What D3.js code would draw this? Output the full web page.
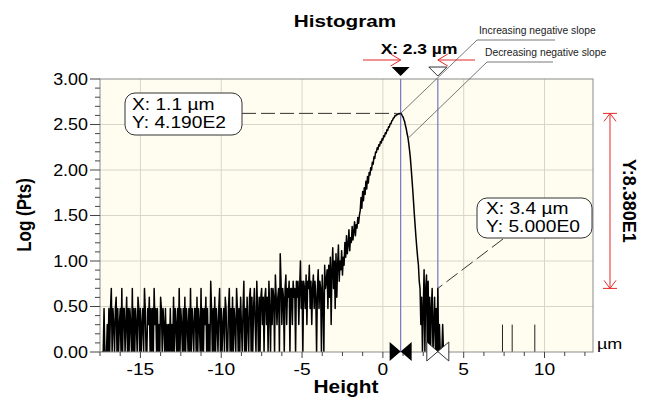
<!DOCTYPE html>
<html><head><meta charset="utf-8">
<script src="https://cdn.jsdelivr.net/npm/d3@7"></script>
<style>
body{margin:0;background:#fff}
svg{display:block}
text{font-family:"Liberation Sans",Arial,Helvetica,sans-serif}
</style>
</head><body>
<svg id="c" width="655" height="397"></svg>
<script>
// ---- data (histogram counts per 0.05 µm bin, starting at -17.40 µm) ----
const binStart = -17.4;
const binWidth = 0.05;
const counts = [
  0,0,0,3,0,0,0,2,0,3,1,3,5,0,3,2,0,3,4,1,
  3,0,2,3,1,5,0,3,3,0,2,4,1,3,0,3,2,0,5,1,
  3,0,3,2,0,4,3,1,3,0,2,3,0,5,3,1,0,3,2,4,
  0,3,1,3,0,5,2,3,0,3,1,2,0,4,3,0,3,2,1,3,
  0,2,1,2,0,3,0,2,1,4,0,3,2,0,3,1,5,0,3,2,
  0,3,1,4,0,3,2,0,3,1,5,0,3,2,0,3,3,1,4,0,
  3,2,0,5,1,3,0,3,2,4,0,3,1,2,0,6,3,0,3,1,
  4,0,3,2,0,3,5,1,3,0,2,3,0,4,3,1,0,3,5,0,
  3,1,4,0,3,2,0,5,3,1,3,0,4,2,0,3,6,1,3,0,
  4,2,0,4,5,1,4,0,3,5,2,0,6,3,1,4,0,4,5,2,
  4,0,4,5,2,4,1,6,3,0,5,2,5,4,0,7,4,2,4,5,
  1,12,6,2,5,4,0,5,7,2,5,4,6,1,5,5,2,6,4,5,
  0,6,4,6,2,5,10,3,6,1,6,5,3,7,2,6,5,9,3,6,
  2,5,7,3,6,4,0,5,8,3,6,5,1,7,4,0,9,5,6,8,
  3,9,4,11,2,8,14,5,10,3,12,4,9,15,6,10,8,13,7,11,
  9,16,11,19,12,15,22,13,18,16,24,17,21,27,19,25,23,30,26,32,
  36,50,38,58,46,64,54,75,62,85,72,94,88,106,100,122,116,140,134,158,
  156,176,168,190,184,206,198,220,214,238,232,256,250,276,272,298,296,322,322,346,
  352,372,374,396,394,410,406,417,412,418,419,412,394,382,358,338,306,282,250,228,
  196,165,136,105,80,60,44,32,24,18,14,11,9,6,5,2,4,0,3,8,
  0,5,7,0,6,1,4,0,3,5,0,2,4,0,3,1,5,0,2,0,
  0,0,2,0,0,0,0,0,0
];
const outlierX = [7.4, 8.0, 9.4];
const outlierCounts = [2, 2, 2];
const xTicks = [-15, -10, -5, 0, 5, 10];
const xTickLabels = ["-15", "-10", "-5", "0", "5", "10"];
const yTicks = [0, 0.5, 1, 1.5, 2, 2.5, 3];
const yTickLabels = ["0.00", "0.50", "1.00", "1.50", "2.00", "2.50", "3.00"];
const cursorX = [1.1, 3.4];
const cursorCounts = [419, 5];
const cursorLabels = [["X: 1.1 µm", "Y: 4.190E2"], ["X: 3.4 µm", "Y: 5.000E0"]];
const slopeX = [1.1, 1.57];
const slopeV = [2.622, 2.35];
const slopeLabels = ["Increasing negative slope", "Decreasing negative slope"];

// ---- layout ----
const SX = 1.2;
const M = {l: 100, r: 593, t: 79, b: 352};
const svg = d3.select("#c");
const x = d3.scaleLinear().domain([-17.5, 13]).range([M.l, M.r]);
const y = d3.scaleLinear().domain([0, 3]).range([M.b, M.t]);
const lv = c => Math.log10(Math.max(c, 1));

function T(g, px, py, s, o = {}) {
  return g.append("text")
    .attr("transform", `translate(${px},${py}) scale(${o.sx || SX},1)` + (o.rot ? ` rotate(${o.rot})` : ""))
    .attr("font-size", o.size || 16)
    .attr("font-weight", o.bold ? "bold" : null)
    .attr("text-anchor", o.anchor || "start")
    .attr("fill", o.fill || "#000")
    .text(s);
}

// plot background
svg.append("rect").attr("x", M.l).attr("y", M.t).attr("width", M.r - M.l).attr("height", M.b - M.t)
  .attr("fill", "#fffdf0");

// grid
const grid = svg.append("g").attr("stroke", "#dad6c6").attr("stroke-width", 1);
xTicks.forEach(v => grid.append("line").attr("x1", x(v)).attr("x2", x(v)).attr("y1", M.t).attr("y2", M.b));
yTicks.filter(v => v > 0 && v < 3).forEach(v => grid.append("line").attr("x1", M.l).attr("x2", M.r).attr("y1", y(v)).attr("y2", y(v)));

svg.append("clipPath").attr("id", "clip").append("rect")
  .attr("x", M.l).attr("y", M.t).attr("width", M.r - M.l).attr("height", M.b - M.t);
const plot = svg.append("g").attr("clip-path", "url(#clip)");

// cursor lines
cursorX.forEach(v => plot.append("line").attr("x1", x(v)).attr("x2", x(v)).attr("y1", M.t).attr("y2", M.b)
  .attr("stroke", "#7676c4").attr("stroke-width", 1.2));

// histogram line
const pts = counts.map((c, i) => [binStart + i * binWidth, lv(c)]);
plot.append("path").datum(pts)
  .attr("d", d3.line().x(d => x(d[0])).y(d => y(d[1])))
  .attr("fill", "none").attr("stroke", "#000").attr("stroke-width", 1.5).attr("stroke-linejoin", "round");
outlierX.forEach((v, i) => plot.append("line").attr("x1", x(v)).attr("x2", x(v))
  .attr("y1", y(0)).attr("y2", y(lv(outlierCounts[i]))).attr("stroke", "#222").attr("stroke-width", 1));

// frame
svg.append("rect").attr("x", M.l).attr("y", M.t).attr("width", M.r - M.l).attr("height", M.b - M.t)
  .attr("fill", "none").attr("stroke", "#8a8a8a").attr("stroke-width", 1);

// y axis ticks
const ax = svg.append("g").attr("stroke", "#444").attr("stroke-width", 1);
d3.range(0, 31).forEach(k => {
  const v = k / 10, major = k % 5 === 0;
  ax.append("line").attr("x1", M.l - (major ? 10 : 5)).attr("x2", M.l).attr("y1", y(v)).attr("y2", y(v));
});
yTicks.forEach((v, i) => T(svg, 88, y(v) + 5.5, yTickLabels[i], {size: 16, anchor: "end", sx: 1.12}));

// x axis ticks
d3.range(-17.5, 13, 1.25).forEach(v => {
  const major = Math.abs(v % 5) < 1e-9;
  ax.append("line").attr("x1", x(v)).attr("x2", x(v)).attr("y1", M.b).attr("y2", M.b + (major ? 6 : 4));
});
xTicks.forEach((v, i) => T(svg, x(v), 375, xTickLabels[i], {size: 16, anchor: "middle"}));

// titles
T(svg, 345, 27, "Histogram", {size: 17, bold: true, anchor: "middle", sx: 1.22});
T(svg, 346, 393, "Height", {size: 18, bold: true, anchor: "middle", sx: 1.16});
T(svg, 31, 215, "Log (Pts)", {size: 17, bold: true, anchor: "middle", rot: -90});
T(svg, 597, 349, "µm", {size: 15});

// top cursor markers
const c0 = x(cursorX[0]), c1 = x(cursorX[1]);
svg.append("path").attr("d", `M${c0 - 9},67 L${c0 + 9},67 L${c0},76 Z`).attr("fill", "#000");
svg.append("path").attr("d", `M${c1 - 9},67 L${c1 + 9},67 L${c1},76 Z`).attr("fill", "#fff").attr("stroke", "#333");
// bottom bow-ties
svg.append("path").attr("d", `M${c0 - 11},342 L${c0 - 11},361 L${c0},351.5 Z M${c0 + 11},342 L${c0 + 11},361 L${c0},351.5 Z`).attr("fill", "#000");
svg.append("path").attr("d", `M${c1 - 11},342 L${c1 - 11},361 L${c1},351.5 Z M${c1 + 11},342 L${c1 + 11},361 L${c1},351.5 Z`)
  .attr("fill", "#fff").attr("stroke", "#333");

// red delta-x arrows
const red = "#e62828";
const ra = svg.append("g").attr("stroke", red).attr("stroke-width", 1).attr("fill", "none");
ra.append("path").attr("d", `M363,60 L${c0},60 M${c0 - 10},54 L${c0},60 L${c0 - 10},66`);
ra.append("path").attr("d", `M475,60 L${c1},60 M${c1 + 10},54 L${c1},60 L${c1 + 10},66`);
T(svg, 419, 54, "X: 2.3 µm", {size: 15, bold: true, anchor: "middle", sx: 1.16});

// red delta-y measure
const yA = y(lv(cursorCounts[0])), yB = y(lv(cursorCounts[1]));
ra.append("path").attr("d", `M610,${yA} L610,${yB} M603,${yA} L617,${yA} M604,${yA + 8} L610,${yA} L616,${yA + 8} M603,${yB} L617,${yB} M604,${yB - 8} L610,${yB} L616,${yB - 8}`);
T(svg, 623, (yA + yB) / 2, "Y:8.380E1", {size: 18, bold: true, anchor: "middle", rot: 90, sx: 1.05});

// cursor readout boxes with dashed leaders
const dash = svg.append("g").attr("stroke", "#333").attr("stroke-width", 1).attr("stroke-dasharray", "14,5").attr("fill", "none");
dash.append("line").attr("x1", 242).attr("y1", yA).attr("x2", c0 - 4).attr("y2", yA);
dash.append("line").attr("x1", 503).attr("y1", 239).attr("x2", c1).attr("y2", yB);

svg.append("rect").attr("x", 125).attr("y", 93).attr("width", 117).attr("height", 42).attr("rx", 10)
  .attr("fill", "#fff").attr("stroke", "#333");
T(svg, 132, 110, cursorLabels[0][0], {size: 16});
T(svg, 132, 128, cursorLabels[0][1], {size: 16});
svg.append("rect").attr("x", 477).attr("y", 198).attr("width", 115).attr("height", 40).attr("rx", 10)
  .attr("fill", "#fff").attr("stroke", "#333");
T(svg, 486, 214, cursorLabels[1][0], {size: 16});
T(svg, 486, 232, cursorLabels[1][1], {size: 16});

// slope leader lines and labels
const lead = svg.append("g").attr("stroke", "#555").attr("stroke-width", 0.8).attr("fill", "none");
lead.append("path").attr("d", `M${x(slopeX[0])},${y(slopeV[0])} L477,40 L555,40`);
lead.append("path").attr("d", `M${x(slopeX[1])},${y(slopeV[1])} L487,62 L553,62`);
T(svg, 479, 34, slopeLabels[0], {size: 10, sx: 1.03, fill: "#222"});
T(svg, 485, 56, slopeLabels[1], {size: 10, sx: 1.03, fill: "#222"});
</script>
</body></html>
